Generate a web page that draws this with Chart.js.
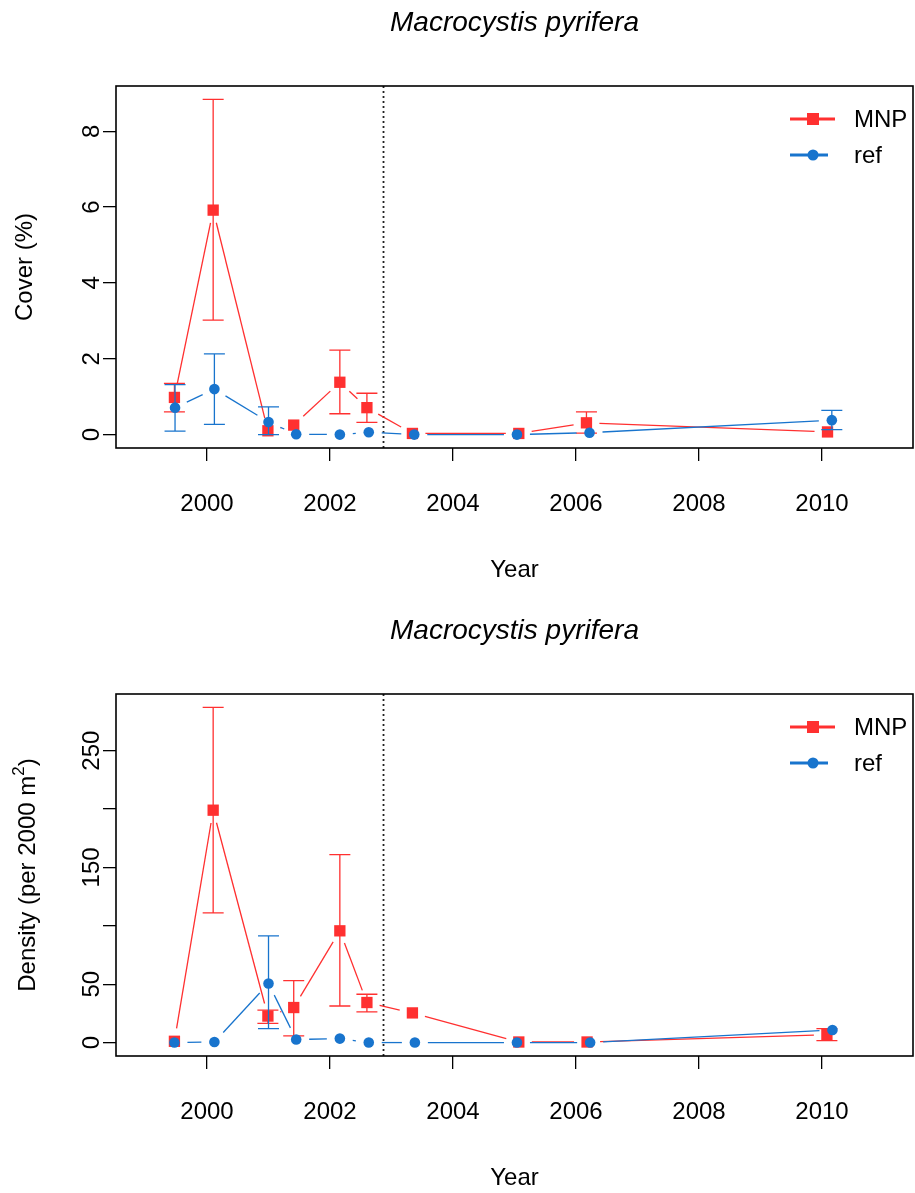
<!DOCTYPE html>
<html>
<head>
<meta charset="utf-8">
<script src="https://cdn.jsdelivr.net/npm/chart.js@4.4.1/dist/chart.umd.min.js"></script>
<style>
  html, body { margin: 0; padding: 0; background: #fff; overflow: hidden; width: 915px; height: 1193px; }
  .panel { position: absolute; left: 0; width: 915px; }
  #p1 { top: 0; height: 596px; }
  #p2 { top: 608px; height: 585px; }
</style>
</head>
<body>
<div class="panel" id="p1"><canvas id="coverChart"></canvas></div>
<div class="panel" id="p2"><canvas id="densityChart"></canvas></div>
<script>
const xTicks = [2000, 2002, 2004, 2006, 2008, 2010];
const treatmentYear = 2002.87;

// cover (%)
const coverYearsMNP = [1999.47, 2000.10, 2000.99, 2001.41, 2002.16, 2002.60, 2003.34, 2005.07, 2006.17, 2010.09];
const coverMNP      = [0.98, 5.92, 0.10, 0.25, 1.38, 0.71, 0.03, 0.03, 0.31, 0.07];
const coverMNPLow   = [0.60, 3.02, null, null, 0.55, 0.32, null, null, 0.04, null];
const coverMNPHigh  = [1.35, 8.84, null, null, 2.23, 1.09, null, null, 0.60, null];
const coverYearsRef = [1999.48, 2000.12, 2001.00, 2001.45, 2002.16, 2002.63, 2003.37, 2005.04, 2006.22, 2010.16];
const coverRef      = [0.71, 1.20, 0.33, 0.01, 0, 0.06, 0, 0, 0.05, 0.38];
const coverRefLow   = [0.09, 0.27, 0.00, null, null, null, null, null, null, 0.13];
const coverRefHigh  = [1.32, 2.13, 0.73, null, null, null, null, null, null, 0.64];
const coverTicks  = [0, 2, 4, 6, 8];
const coverLabels = ['0', '2', '4', '6', '8'];

// density (per 2000 m2)
const densYearsMNP = [1999.47, 2000.10, 2000.99, 2001.41, 2002.16, 2002.60, 2003.34, 2005.07, 2006.18, 2010.08];
const densMNP      = [1.1, 199, 22.7, 30, 95.7, 34.3, 25.4, 0.5, 0.5, 6.8];
const densMNPLow   = [null, 111, 16.5, 5.7, 31.3, 26.3, null, null, null, 1.7];
const densMNPHigh  = [null, 287, 27.7, 53, 161, 41.4, null, null, null, 12];
const densYearsRef = [1999.47, 2000.12, 2001.00, 2001.45, 2002.16, 2002.63, 2003.38, 2005.04, 2006.23, 2010.17];
const densRef      = [0, 0.5, 50.6, 2.6, 3.4, 0, 0, 0, 0, 10.8];
const densRefLow   = [null, null, 11.9, null, null, null, null, null, null, null];
const densRefHigh  = [null, null, 91.4, null, null, null, null, null, null, null];
const densTicks  = [0, 50, 100, 150, 200, 250];
const densLabels = ['0', '50', '', '150', '', '250'];

const FONT = "'Liberation Sans', Arial, Helvetica, sans-serif";
const RED = '#FF3030';
const BLUE = '#1874CD';

function series(xs, ys) {
    return xs.map((x, i) => ({ x: x, y: ys[i] }));
}

const plotDecor = {
    id: 'plotDecor',
    beforeDatasetsDraw(chart) {
        const ctx = chart.ctx;
        const a = chart.chartArea;
        const px = chart.scales.x.getPixelForValue(treatmentYear);
        ctx.save();
        ctx.strokeStyle = '#222';
        ctx.lineWidth = 1.8;
        ctx.setLineDash([2, 3]);
        ctx.beginPath();
        ctx.moveTo(px, a.top);
        ctx.lineTo(px, a.bottom);
        ctx.stroke();
        ctx.restore();
    },
    beforeDatasetDraw(chart, args) {
        const ds = chart.data.datasets[args.index];
        const pts = args.meta.data;
        const ctx = chart.ctx;
        const yScale = chart.scales.y;
        ctx.save();
        ctx.strokeStyle = ds.borderColor;
        ctx.lineWidth = 1.3;

        // R type = "b": segments stop short of each point
        const gap = 13;
        for (let i = 0; i < pts.length - 1; i++) {
            const p = pts[i], q = pts[i + 1];
            const dx = q.x - p.x, dy = q.y - p.y;
            const len = Math.hypot(dx, dy);
            if (len <= 2 * gap) continue;
            const ux = dx / len, uy = dy / len;
            ctx.beginPath();
            ctx.moveTo(p.x + ux * gap, p.y + uy * gap);
            ctx.lineTo(q.x - ux * gap, q.y - uy * gap);
            ctx.stroke();
        }

        // error bars
        for (let i = 0; i < pts.length; i++) {
            if (ds.errLow[i] == null) continue;
            const x = pts[i].x;
            const y1 = yScale.getPixelForValue(ds.errLow[i]);
            const y2 = yScale.getPixelForValue(ds.errHigh[i]);
            ctx.beginPath();
            ctx.moveTo(x, y1); ctx.lineTo(x, y2);
            ctx.moveTo(x - 10.5, y1); ctx.lineTo(x + 10.5, y1);
            ctx.moveTo(x - 10.5, y2); ctx.lineTo(x + 10.5, y2);
            ctx.stroke();
        }
        ctx.restore();
    },
    afterDraw(chart, args, opts) {
        const ctx = chart.ctx;
        const a = chart.chartArea;
        const yScale = chart.scales.y;
        ctx.save();

        // box
        ctx.strokeStyle = '#000';
        ctx.lineWidth = 1.6;
        ctx.strokeRect(a.left, a.top, a.right - a.left, a.bottom - a.top);

        ctx.fillStyle = '#000';

        // title
        ctx.font = 'italic 28px ' + FONT;
        ctx.textAlign = 'center';
        ctx.textBaseline = 'middle';
        ctx.fillText(opts.title, (a.left + a.right) / 2, 23);

        // x title
        ctx.font = '24px ' + FONT;
        ctx.fillText('Year', (a.left + a.right) / 2, 570);

        // y tick labels, rotated like R
        yScale.ticks.forEach((t, i) => {
            const lab = opts.yLabels[i];
            if (!lab) return;
            ctx.save();
            ctx.translate(92, yScale.getPixelForValue(t.value));
            ctx.rotate(-Math.PI / 2);
            ctx.fillText(lab, 0, 0);
            ctx.restore();
        });

        // y title (with optional superscript)
        ctx.save();
        ctx.translate(opts.yTitleX, (a.top + a.bottom) / 2);
        ctx.rotate(-Math.PI / 2);
        ctx.textAlign = 'left';
        ctx.font = '24px ' + FONT;
        const w1 = ctx.measureText(opts.yTitle).width;
        let w2 = 0, w3 = 0;
        if (opts.yTitleSup) {
            ctx.font = '17px ' + FONT;
            w2 = ctx.measureText(opts.yTitleSup).width;
            ctx.font = '24px ' + FONT;
            w3 = ctx.measureText(opts.yTitleEnd).width;
        }
        let sx = -(w1 + w2 + w3) / 2;
        ctx.fillText(opts.yTitle, sx, 0);
        if (opts.yTitleSup) {
            ctx.font = '17px ' + FONT;
            ctx.fillText(opts.yTitleSup, sx + w1, -9);
            ctx.font = '24px ' + FONT;
            ctx.fillText(opts.yTitleEnd, sx + w1 + w2, 0);
        }
        ctx.restore();

        // legend
        const ly = [a.top + 33, a.top + 69];
        ctx.lineWidth = 3;
        ctx.strokeStyle = RED;
        ctx.beginPath(); ctx.moveTo(790, ly[0]); ctx.lineTo(835, ly[0]); ctx.stroke();
        ctx.fillStyle = RED;
        ctx.fillRect(807, ly[0] - 6, 12, 12);
        ctx.strokeStyle = BLUE;
        ctx.beginPath(); ctx.moveTo(790, ly[1]); ctx.lineTo(828, ly[1]); ctx.stroke();
        ctx.fillStyle = BLUE;
        ctx.beginPath(); ctx.arc(813, ly[1], 5.5, 0, Math.PI * 2); ctx.fill();
        ctx.fillStyle = '#000';
        ctx.textAlign = 'left';
        ctx.font = '24px ' + FONT;
        ctx.fillText('MNP', 854, ly[0] + 1);
        ctx.fillText('ref', 854, ly[1] + 1);

        ctx.restore();
    }
};

function makeChart(id, height, mnp, ref, yMin, yMax, yTicks, decor) {
    const chart = new Chart(document.getElementById(id), {
        type: 'scatter',
        data: {
            datasets: [
                {
                    label: 'MNP',
                    data: mnp.data,
                    errLow: mnp.low,
                    errHigh: mnp.high,
                    borderColor: RED,
                    backgroundColor: RED,
                    pointStyle: 'rect',
                    pointRadius: 8,
                    pointBorderWidth: 0,
                    showLine: false,
                    order: 2
                },
                {
                    label: 'ref',
                    data: ref.data,
                    errLow: ref.low,
                    errHigh: ref.high,
                    borderColor: BLUE,
                    backgroundColor: BLUE,
                    pointStyle: 'circle',
                    pointRadius: 5.3,
                    pointBorderWidth: 0,
                    showLine: false,
                    order: 1
                }
            ]
        },
        options: {
            responsive: true,
            maintainAspectRatio: false,
            animation: false,
            events: [],
            layout: { padding: { top: 86, right: 2, left: 0, bottom: 0 } },
            plugins: {
                legend: { display: false },
                tooltip: { enabled: false },
                plotDecor: decor
            },
            scales: {
                x: {
                    type: 'linear',
                    min: 1998.52,
                    max: 2011.48,
                    afterBuildTicks: s => { s.ticks = xTicks.map(v => ({ value: v })); },
                    afterFit: s => {
                        s.height = height - 448;
                        s.paddingLeft = 0;
                        s.paddingRight = 0;
                    },
                    border: { display: false },
                    grid: { drawOnChartArea: false, drawTicks: true, tickLength: 13, color: '#000', lineWidth: 1.3 },
                    ticks: {
                        color: '#000',
                        font: { family: FONT, size: 24 },
                        padding: 29,
                        maxRotation: 0,
                        autoSkip: false,
                        callback: v => String(v)
                    }
                },
                y: {
                    type: 'linear',
                    min: yMin,
                    max: yMax,
                    afterBuildTicks: s => { s.ticks = yTicks.map(v => ({ value: v })); },
                    afterFit: s => {
                        s.width = 116;
                        s.paddingTop = 0;
                        s.paddingBottom = 0;
                    },
                    border: { display: false },
                    grid: { drawOnChartArea: false, drawTicks: true, tickLength: 13, color: '#000', lineWidth: 1.3 },
                    ticks: { display: false }
                }
            }
        },
        plugins: [plotDecor]
    });

    // the layout keeps a few extra px on the right; widen the canvas
    // (the overflow is clipped) until the plot edge sits at x = 913
    const panel = chart.canvas.parentNode;
    for (let k = 0; k < 4; k++) {
        const d = 913 - chart.chartArea.right;
        if (Math.abs(d) < 0.5) break;
        panel.style.width = (panel.offsetWidth + Math.round(d)) + 'px';
        chart.resize();
    }
    return chart;
}

makeChart('coverChart', 596,
    { data: series(coverYearsMNP, coverMNP), low: coverMNPLow, high: coverMNPHigh },
    { data: series(coverYearsRef, coverRef), low: coverRefLow, high: coverRefHigh },
    -0.354, 9.194, coverTicks,
    { title: 'Macrocystis pyrifera', yTitle: 'Cover (%)', yTitleX: 25, yLabels: coverLabels });

makeChart('densityChart', 585,
    { data: series(densYearsMNP, densMNP), low: densMNPLow, high: densMNPHigh },
    { data: series(densYearsRef, densRef), low: densRefLow, high: densRefHigh },
    -11.5, 298.5, densTicks,
    { title: 'Macrocystis pyrifera', yTitle: 'Density (per 2000 m', yTitleSup: '2', yTitleEnd: ')', yTitleX: 28, yLabels: densLabels });
</script>
</body>
</html>
